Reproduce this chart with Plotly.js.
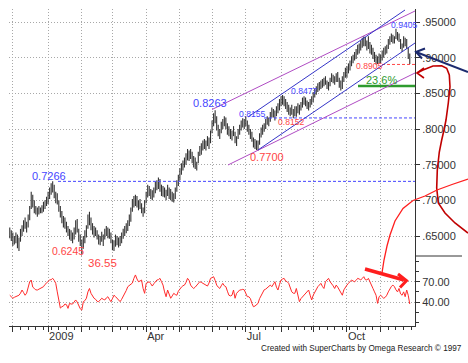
<!DOCTYPE html>
<html><head><meta charset="utf-8">
<script src="https://cdn.plot.ly/plotly-3.0.1.min.js"></script>
<style>html,body{margin:0;padding:0;background:#fff;}#chart{width:468px;height:363px;}</style>
</head><body><div id="chart"></div>
<script>
// ---------- DATA ----------
const startDate = '2008-11-27'; // first trading day shown
// daily highs, month by month (Nov-08 .. Nov-09)
const hi = [
 .662,.658,
 .655,.650,.655,.652,.648,.660,.665,.672,.676,.670,.680,.692,.712,.708,.700,.692,.690,.692,.690,.693,.698,.700,.705,
 .712,.718,.724,.7266,.722,.712,.710,.700,.692,.685,.678,.676,.670,.664,.660,.658,.655,.662,.672,.674,.660,.652,
 .645,.650,.658,.665,.680,.684,.676,.668,.664,.662,.658,.652,.650,.656,.652,.660,.664,.662,.660,.655,
 .645,.644,.652,.650,.648,.650,.655,.660,.664,.668,.672,.680,.690,.702,.706,.708,.706,.700,.702,.696,.690,.700,
 .712,.722,.720,.716,.714,.718,.726,.728,.732,.730,.722,.720,.718,.715,.722,.718,.716,.712,.710,.718,.728,.736,
 .745,.752,.756,.760,.766,.772,.770,.772,.768,.762,.760,.754,.768,.776,.780,.784,.786,.784,.790,.788,.798,
 .812,.822,.8263,.818,.806,.800,.810,.814,.818,.816,.808,.804,.800,.798,.804,.796,.790,.800,.806,.812,.815,.814,
 .818,.812,.806,.800,.796,.788,.786,.784,.784,.794,.802,.806,.808,.814,.818,.816,.824,.830,.828,.826,.832,.836,.842,
 .846,.8477,.846,.842,.838,.834,.830,.834,.828,.832,.832,.836,.834,.838,.844,.846,.844,.840,.838,.842,.846,
 .852,.856,.860,.864,.866,.868,.870,.872,.874,.868,.866,.872,.878,.876,.874,.878,.880,.872,.868,.874,.880,.886,
 .888,.892,.896,.902,.904,.908,.912,.918,.920,.924,.928,.930,.929,.924,.930,.922,.918,.914,.908,.904,.902,.906,
 .904,.910,.914,.916,.918,.926,.930,.934,.932,.930,.9405,.936,.934,.926,.920,.930,.928,.926,.914,.906
];
// daily lows
const lo = [
 .647,.643,
 .636,.638,.640,.633,.629,.642,.650,.656,.660,.655,.662,.672,.688,.690,.682,.680,.677,.680,.682,.682,.684,.688,.692,
 .695,.702,.708,.711,.703,.696,.694,.684,.676,.668,.662,.660,.655,.650,.645,.643,.640,.645,.652,.655,.642,.636,
 .6245,.632,.640,.648,.660,.665,.658,.652,.648,.650,.645,.638,.637,.642,.636,.645,.650,.647,.646,.640,
 .630,.629,.635,.637,.634,.636,.640,.646,.650,.654,.657,.664,.670,.684,.690,.692,.690,.686,.688,.682,.677,.682,
 .696,.704,.706,.702,.700,.704,.710,.714,.716,.712,.706,.705,.704,.700,.706,.702,.700,.698,.697,.702,.712,.720,
 .728,.736,.742,.746,.750,.756,.755,.758,.752,.746,.744,.742,.752,.762,.764,.770,.772,.770,.776,.772,.780,
 .794,.804,.808,.798,.790,.786,.794,.800,.804,.800,.792,.790,.786,.784,.790,.780,.776,.786,.792,.798,.802,.800,
 .804,.796,.792,.786,.782,.774,.772,.7705,.770,.778,.788,.792,.796,.800,.806,.804,.810,.816,.816,.812,.818,.822,.826,
 .832,.834,.832,.828,.824,.820,.818,.820,.8152,.818,.817,.822,.820,.826,.830,.834,.832,.828,.826,.830,.834,
 .838,.844,.848,.852,.854,.856,.858,.860,.862,.856,.854,.860,.866,.864,.862,.866,.866,.858,.854,.856,.866,.872,
 .872,.878,.882,.888,.892,.896,.898,.904,.906,.910,.914,.916,.916,.910,.912,.906,.904,.898,.894,.8905,.891,.892,
 .892,.896,.900,.904,.906,.912,.918,.922,.920,.920,.926,.924,.922,.912,.908,.914,.916,.912,.898,.891
];
// RSI indicator, daily
const rsi = [
 50,48,
 45.5,47,48,47.8,50,53,57.7,54,50,53,60,70,72.5,62,60,58,57.7,59,60.5,61,62.6,66,68,
 70,72.5,73,75,72,67.6,55,45,31,33,34,37,36,30.6,38,37,37,40,43,40,35.6,30,
 28,40.5,42,45.5,55,60,52.8,49,45.5,44,41,40.5,43,45.5,44,43,46,47.8,44,40.5,
 45,50,48,45.5,43,40.5,44,48,52,57,62.6,64,66,68,75,80,74,70,71,72.5,60,52.8,
 67.6,69,70,67,63.6,67,70,72.5,73,75,70,65,55,47.8,57.7,52,45.5,49,52.8,51,50,56,
 60,62,64,65,69,75,72,65,62,60,62,65,67,70,69,67.6,66,64,63.6,68,75,
 76,77.4,72,65,62,60,64,67.6,64,62.6,56,50,49,50,57.7,45.5,52.8,56,57.7,58,58.7,58,
 52,47.8,47.8,45,38,33,34,35.6,38,45,50,55,58,59,61,64,65,62.6,66,70,62,57.7,66,
 72.5,74,75,71,70,67.6,60,55,53,52.8,60,52,40.5,45,47.8,50,52.8,55,57.7,50,43,
 50,55,60,62.6,65,67.6,63,60,70,72,75,70,67.6,64,60,65,62,57.7,54,50,58,62.6,
 65,67.6,70,72.5,71,70,72,75,74,72.5,75,77.4,73,72.5,75,70,67.6,60,55,50,38,47.8,
 50,48,45.5,47,50,55,60,63,65,62.6,58,55,60,52,50,55,47.8,57.7,50,37
];
const monthTicks = ['2008-12-01','2009-01-01','2009-02-02','2009-03-02','2009-04-01','2009-05-01',
                    '2009-06-01','2009-07-01','2009-08-03','2009-09-01','2009-10-01','2009-11-02'];
const monthLabels = ['','2009','','','Apr','','','Jul','','','Oct',''];
const priceTicks = [0.65,0.70,0.75,0.80,0.85,0.90,0.95];
const priceTickText = ['.65000','.70000','.75000','.80000','.85000','.90000','.95000'];
const rsiTicks = [40,70];
const rsiTickText = ['40.00','70.00'];
// marked levels
const lvl7266 = 0.7266, lvl8155 = 0.8155, lvl8905 = 0.8905, lvlFib = 0.8603;

// ---------- BUILD ----------
function tradingDays(start, n){
  const out=[]; let d=new Date(start+'T00:00:00Z');
  while(out.length<n){ const w=d.getUTCDay(); if(w!==0&&w!==6) out.push(d.toISOString().slice(0,10)); d=new Date(d.getTime()+86400000); }
  return out;
}
const dates = tradingDays(startDate, hi.length);
const bx=[], by=[];
for(let i=0;i<dates.length;i++){ bx.push(dates[i],dates[i],null); by.push(lo[i],hi[i],null); }

// page-pixel -> paper helpers (layout only)
const L=9, R=415, T=9, B=326, W=R-L, H=B-T;
const px = x => (x-L)/W, py = y => (B-y)/H;
const path = pts => pts.map((p,i)=>(i?'L':'M')+px(p[0]).toFixed(5)+','+py(p[1]).toFixed(5)).join(' ');
const split = (B-256)/H;

const FONT = 'Liberation Sans, Arial, sans-serif';
const BLUE='#4646ff', RED='#ff4646', GREEN='#2e9b2e', PURPLE='#b04cc4', CHBLUE='#3535c8';

function seg(x0,y0,x1,y1,color,width,dash){
  return {type:'path', xref:'paper', yref:'paper', path:path([[x0,y0],[x1,y1]]), line:{color:color,width:width,dash:dash||'solid'}};
}
function hline(yv,x0,x1,color,width,dash){
  return {type:'line', xref:'paper', yref:'y', x0:px(x0), x1:px(x1), y0:yv, y1:yv, line:{color:color,width:width,dash:dash||'solid'}};
}
const shapes = [
  hline(lvl7266, 58, 415, BLUE, 1, '3px,2px'),
  hline(lvl8155, 264, 415, BLUE, 1, '3px,2px'),
  hline(lvl8905, 382, 415, RED, 1, '3px,2px'),
  hline(lvlFib, 358, 415, GREEN, 2.5),
  seg(212,109.5,415,11, PURPLE, 1),
  seg(228,165,415,73, PURPLE, 1),
  seg(248,117,405,10, CHBLUE, 1),
  seg(258,150,415,43, CHBLUE, 1),
  // separator in right margin
  seg(415,256,462,256,'#333',1),
  // navy arrow
  {type:'path', xref:'paper', yref:'paper', path:path([[468,72],[416,52]]), line:{color:'#1c2a6e',width:2}},
  {type:'path', xref:'paper', yref:'paper', path:path([[425,48.5],[416,52],[422,58.5]]), line:{color:'#1c2a6e',width:2}},
  // dark red curved arrow
  {type:'path', xref:'paper', yref:'paper', path:path([[417,73],[423,70],[433,66],[441.7,65.7],[446.7,68.3],[449.3,75],[450,86.7],[448.3,103],[446,120],[444,130],[441.7,140],[439.3,152],[437.3,170],[436.7,188],[438.3,203],[445,213],[455,223],[468,233]]), line:{color:'#c00000',width:1.6}},
  {type:'path', xref:'paper', yref:'paper', path:path([[424,68],[417,73],[424,78]]), line:{color:'#c00000',width:1.6}},
  // bright red curve
  {type:'path', xref:'paper', yref:'paper', path:path([[382,273],[384,260],[387,246],[390,235],[395,221],[403,208.5],[413,200.5],[425,196],[437,190],[452,184.5],[468,179]]), line:{color:'#ff1e1e',width:1.3}},
  // thick red arrow
  {type:'path', xref:'paper', yref:'paper', path:path([[365,269],[404,280]]), line:{color:'#ff1e1e',width:3.5}},
  {type:'path', xref:'paper', yref:'paper', path:path([[398,274],[406.5,280.7],[400,287.5]]), line:{color:'#ff1e1e',width:3}}
];

function lab(text,left,cy,color,size){
  return {text:text, xref:'paper', yref:'paper', x:px(left), y:py(cy), xanchor:'left', yanchor:'middle',
          showarrow:false, borderpad:0, font:{family:FONT,size:size,color:color}};
}
const FOOTER = 'Created with SuperCharts by Omega Research \u00a9 1997';
const annotations = [
  lab('0.7266',31,176,BLUE,11),
  lab('0.6245',51,251,RED,10.5),
  lab('36.55',87,262.5,RED,11.5),
  lab('0.8263',192,103,BLUE,11),
  lab('0.8155',237.5,114,BLUE,8.6),
  lab('0.7700',249,157,RED,11),
  lab('0.8152',276.5,122,RED,8.6),
  lab('0.8477',290,91,BLUE,8.6),
  lab('0.8905',355,65.5,RED,8.6),
  lab('23.6%',364.5,80,GREEN,11),
  lab('0.9405',390,24.5,BLUE,8.6),
  {text:FOOTER, xref:'paper', yref:'paper', x:px(462.5), y:py(348),
   xanchor:'right', yanchor:'middle', showarrow:false, borderpad:0,
   font:{family:FONT, size:8.2, color:'#222'}}
];

const traces = [
  {type:'scatter', mode:'lines', x:bx, y:by, xaxis:'x', yaxis:'y', line:{color:'#333',width:1.1}, hoverinfo:'skip', connectgaps:false},
  {type:'scatter', mode:'lines', x:dates, y:rsi, xaxis:'x', yaxis:'y2', line:{color:'#ff2a2a',width:1}, hoverinfo:'skip'}
];

const GRID='#a8a8a8';
const layout = {
  width:468, height:363, margin:{l:L, r:468-R, t:T, b:363-B, pad:0},
  paper_bgcolor:'#fff', plot_bgcolor:'#fff', showlegend:false,
  font:{family:FONT, size:11, color:'#333'},
  xaxis:{type:'date', anchor:'y2', domain:[0,1], range:['2008-11-26 12:00','2009-12-02 10:00'],
    rangebreaks:[{bounds:['sat','mon']}],
    tickmode:'array', tickvals:monthTicks, ticktext:monthLabels, ticklabelposition:'outside right',
    ticks:'outside', ticklen:5, tickcolor:'#333', tickfont:{family:FONT,size:11,color:'#333'},
    showline:true, linecolor:'#333', linewidth:1,
    showgrid:true, gridcolor:GRID, griddash:'1px,2px', gridwidth:1, zeroline:false,
    minor:{tick0:'2008-12-01', dtick:7*86400000, ticks:'outside', ticklen:3, tickcolor:'#333', showgrid:false}},
  yaxis:{domain:[split,1], range:[0.62197,0.96822], side:'right', anchor:'x',
    tickmode:'array', tickvals:priceTicks, ticktext:priceTickText,
    ticks:'outside', ticklen:4, tickcolor:'#333', tickfont:{family:FONT,size:11,color:'#333'},
    showline:true, linecolor:'#333', linewidth:1,
    showgrid:true, gridcolor:GRID, griddash:'1px,2px', gridwidth:1, zeroline:false},
  yaxis2:{domain:[0,split], range:[4.53,108], side:'right', anchor:'x',
    tickmode:'array', tickvals:rsiTicks, ticktext:rsiTickText,
    ticks:'outside', ticklen:4, tickcolor:'#333', tickfont:{family:FONT,size:11,color:'#333'},
    showline:true, linecolor:'#333', linewidth:1,
    showgrid:true, gridcolor:GRID, griddash:'1px,2px', gridwidth:1, zeroline:false,
    minor:{tick0:10, dtick:15, ticks:'outside', ticklen:3, tickcolor:'#333', showgrid:false}},
  shapes:shapes, annotations:annotations
};
Plotly.newPlot('chart', traces, layout, {staticPlot:true, displayModeBar:false});
</script></body></html>
